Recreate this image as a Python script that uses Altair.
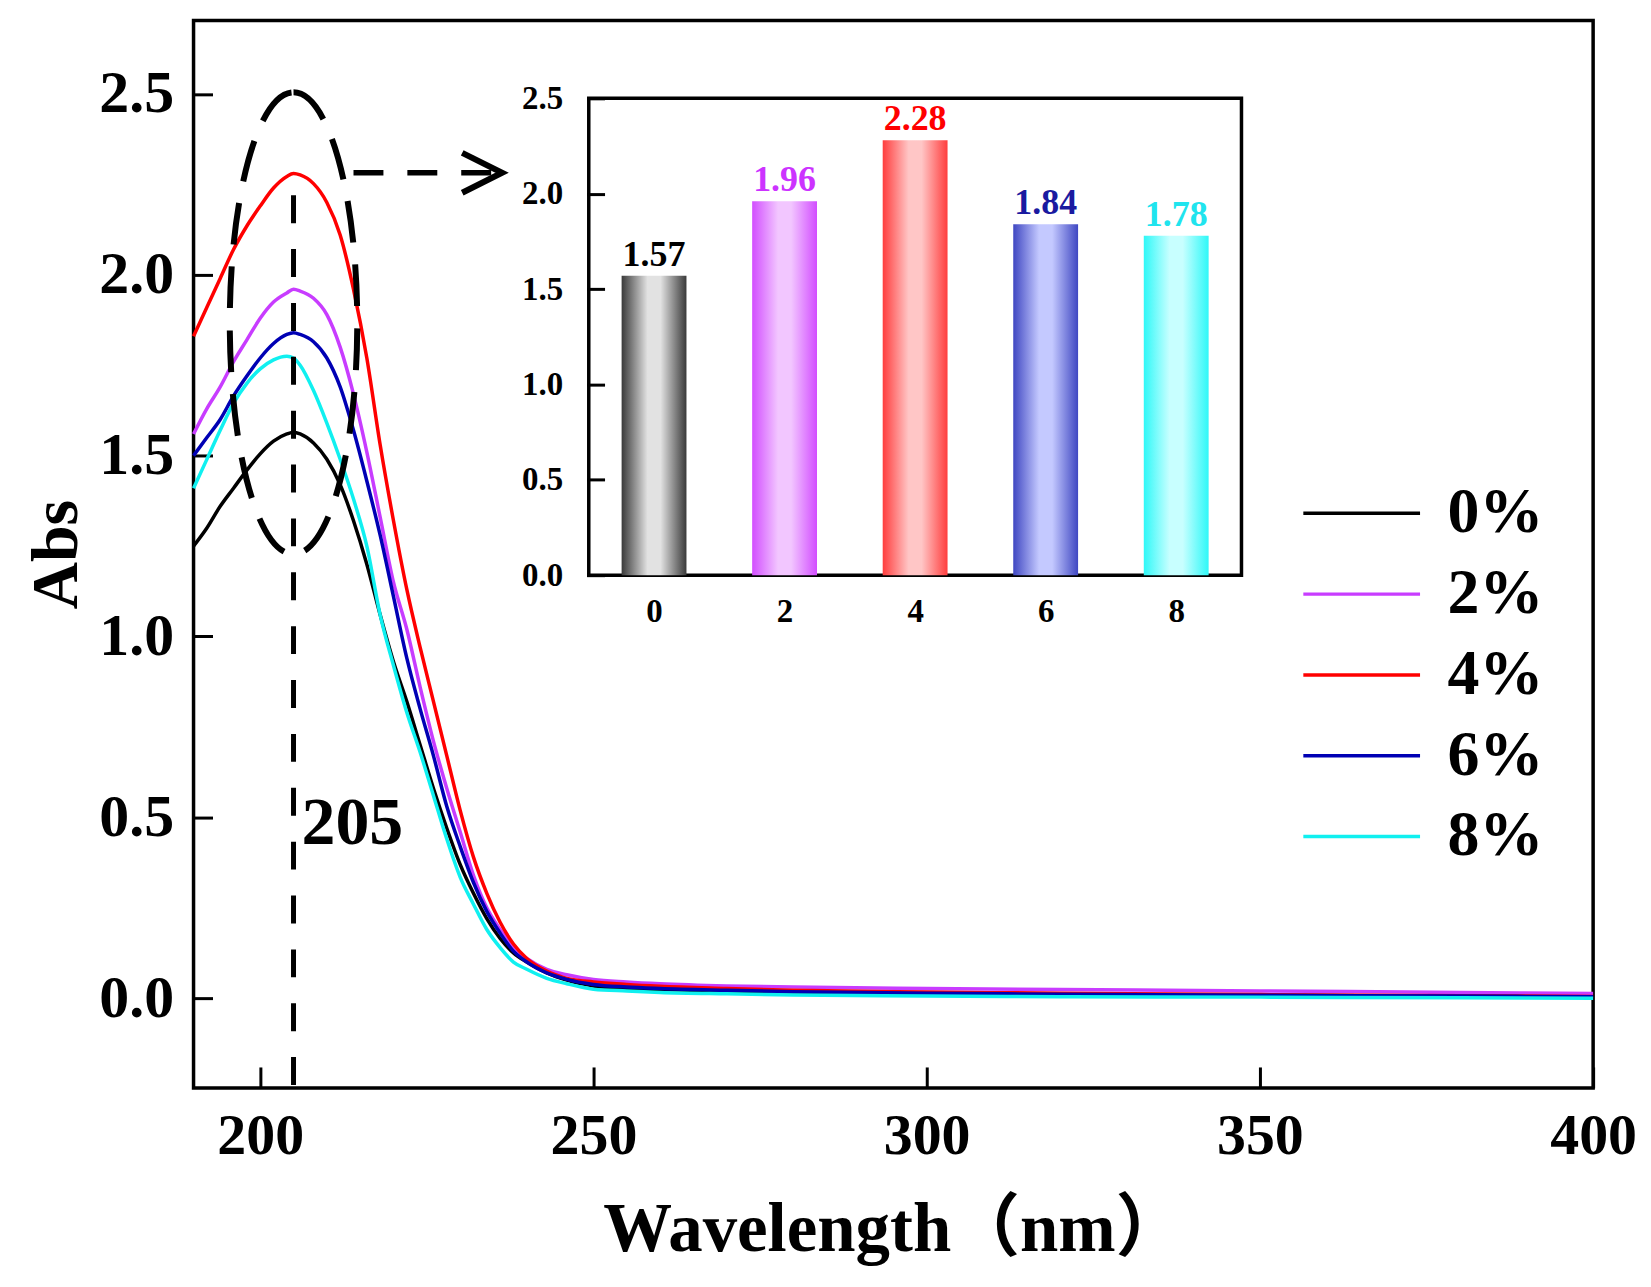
import altair as alt
import pandas as pd

# ---- main spectra ----
wavelength = [190, 192, 194, 196, 198, 200, 202, 204, 205, 206, 208, 210, 212, 214, 216, 218,
              220, 222, 224, 226, 228, 230, 232, 234, 236, 238, 240, 243, 246, 250, 255, 260,
              270, 280, 300, 320, 350, 380, 400]
abs_0 = [1.25, 1.30, 1.36, 1.41, 1.46, 1.505, 1.54, 1.56, 1.565, 1.56, 1.535, 1.49, 1.42, 1.32,
         1.20, 1.06, 0.93, 0.82, 0.70, 0.58, 0.47, 0.37, 0.29, 0.22, 0.165, 0.125, 0.10, 0.07,
         0.05, 0.034, 0.027, 0.024, 0.020, 0.017, 0.013, 0.011, 0.008, 0.006, 0.004]
abs_2 = [1.56, 1.63, 1.69, 1.76, 1.82, 1.88, 1.925, 1.95, 1.96, 1.955, 1.935, 1.89, 1.80, 1.67,
         1.51, 1.33, 1.15, 1.02, 0.86, 0.71, 0.58, 0.46, 0.34, 0.25, 0.19, 0.14, 0.11, 0.08,
         0.065, 0.052, 0.045, 0.040, 0.034, 0.031, 0.027, 0.024, 0.020, 0.016, 0.013]
abs_4 = [1.83, 1.91, 1.99, 2.07, 2.135, 2.19, 2.24, 2.272, 2.28, 2.276, 2.252, 2.20, 2.11, 1.96,
         1.77, 1.53, 1.32, 1.13, 0.97, 0.82, 0.67, 0.52, 0.39, 0.29, 0.21, 0.15, 0.11, 0.075,
         0.055, 0.045, 0.038, 0.033, 0.027, 0.022, 0.017, 0.014, 0.010, 0.007, 0.005]
abs_6 = [1.50, 1.55, 1.60, 1.665, 1.72, 1.77, 1.81, 1.835, 1.84, 1.835, 1.815, 1.77, 1.69, 1.57,
         1.43, 1.28, 1.11, 0.94, 0.80, 0.67, 0.53, 0.42, 0.32, 0.24, 0.18, 0.13, 0.10, 0.07,
         0.052, 0.038, 0.031, 0.027, 0.022, 0.018, 0.014, 0.011, 0.008, 0.006, 0.004]
abs_8 = [1.41, 1.49, 1.57, 1.645, 1.70, 1.74, 1.765, 1.775, 1.77, 1.75, 1.68, 1.59, 1.49, 1.38,
         1.25, 1.06, 0.92, 0.79, 0.68, 0.56, 0.44, 0.335, 0.26, 0.19, 0.14, 0.10, 0.08, 0.055,
         0.04, 0.025, 0.02, 0.016, 0.012, 0.009, 0.006, 0.004, 0.003, 0.001, 0.0]

series_names = ["0%", "2%", "4%", "6%", "8%"]
line_colors = ["#000000", "#c83cff", "#ff0000", "#0000b4", "#10f0f0"]

x_ticks = [200, 250, 300, 350, 400]
y_ticks = [0.0, 0.5, 1.0, 1.5, 2.0, 2.5]
x_domain = [190, 400]
y_domain = [-0.248, 2.703]

# annotation: peak position, ellipse round the peaks, arrow to the inset
peak_nm = 205
peak_line_top = 2.22
ellipse_center = [205, 1.866]
arrow_from = [214.0, 2.282]
arrow_to = 236.3
peak_label = "205"
peak_label_pos = [206.2, 0.425]

# ---- inset bars ----
inset_conc = [0, 2, 4, 6, 8]
inset_abs = [1.57, 1.96, 2.28, 1.84, 1.78]
inset_text = ["1.57", "1.96", "2.28", "1.84", "1.78"]
inset_x_ticks = [0, 2, 4, 6, 8]
inset_y_ticks = [0.0, 0.5, 1.0, 1.5, 2.0, 2.5]
inset_x_limits = [-1, 9]
inset_y_limits = [0, 2.5]
bar_edge = ["#3a3a3a", "#d24dff", "#ff3d3d", "#3f47c2", "#2ef8f8"]
bar_center = ["#e2e2e2", "#f2c6ff", "#ffc6c6", "#c4c9ff", "#c8ffff"]
label_colors = ["#000000", "#cc33ff", "#ff0000", "#1a1aa0", "#20e4ee"]

W, H = 1403, 1070
INSET_LEFT, INSET_TOP, INSET_W, INSET_H = 394, 78, 659, 478
FONT = "Liberation Serif"
TITLE_FONT = "Liberation Serif, Noto Sans CJK SC"

spectra = pd.DataFrame([
    {"wl": w, "abs": v, "series": s}
    for s, vals in zip(series_names, [abs_0, abs_2, abs_4, abs_6, abs_8])
    for w, v in zip(wavelength, vals)
])

x_scale = alt.Scale(domain=x_domain, nice=False, zero=False)
y_scale = alt.Scale(domain=y_domain, nice=False, zero=False)
x_axis = alt.Axis(values=x_ticks, orient="bottom", offset=-21, tickSize=21, tickWidth=3,
                  tickColor="black", domain=False, grid=False, labelPadding=20,
                  labelFont=FONT, labelFontSize=58, labelFontWeight="bold", labelColor="black",
                  labelFlush=False, title="Wavelength（nm）", titleFont=TITLE_FONT,
                  titleFontSize=69, titleFontWeight="bold", titleColor="black", titlePadding=30)
y_axis = alt.Axis(values=y_ticks, format=".1f", orient="left", offset=-19, tickSize=19,
                  tickWidth=3, tickColor="black", domain=False, grid=False, labelPadding=20,
                  labelFont=FONT, labelFontSize=60, labelFontWeight="bold", labelColor="black",
                  labelFlush=False, title="Abs", titleFont=FONT, titleFontSize=66,
                  titleFontWeight="bold", titleColor="black", titlePadding=8)

X = alt.X("wl:Q", scale=x_scale, axis=x_axis)
Y = alt.Y("abs:Q", scale=y_scale, axis=y_axis)

lines = alt.Chart(spectra).mark_line(strokeWidth=3.5, interpolate="monotone").encode(
    x=X, y=Y,
    color=alt.Color("series:N", sort=series_names,
                    scale=alt.Scale(domain=series_names, range=line_colors),
                    legend=alt.Legend(title=None, orient="none", legendX=1139, legendY=462,
                                      symbolType="M-3,0L3,0", symbolSize=1521,
                                      symbolStrokeWidth=3.5, labelFont=FONT, labelFontSize=64,
                                      labelFontWeight="bold", labelColor="black",
                                      labelOffset=54, rowPadding=17, padding=0)),
    detail="series:N",
)

peak_df = pd.DataFrame({"wl": [peak_nm], "abs": [peak_line_top], "lo": [y_domain[0]]})
peak_rule = alt.Chart(peak_df).mark_rule(strokeWidth=5, strokeDash=[28, 26], color="black").encode(
    x=X, y=Y, y2="lo:Q")

ellipse_path = ("M0,-1C0.1524,-1,0.276,-0.5523,0.276,0C0.276,0.5523,0.1524,1,0,1"
                "C-0.1524,1,-0.276,0.5523,-0.276,0C-0.276,-0.5523,-0.1524,-1,0,-1Z")
ell_df = pd.DataFrame({"wl": [ellipse_center[0]], "abs": [ellipse_center[1]]})
ellipse = alt.Chart(ell_df).mark_point(shape=ellipse_path, size=463 * 463, filled=False,
                                       color="black", strokeWidth=6, opacity=1,
                                       strokeDash=[42, 22]).encode(x=X, y=Y)

arrow_df = pd.DataFrame({"wl": [arrow_from[0]], "wl2": [arrow_to], "abs": [arrow_from[1]]})
arrow = alt.Chart(arrow_df).mark_rule(strokeWidth=5.5, strokeDash=[30, 24], color="black").encode(
    x=X, x2="wl2:Q", y=Y)
head_df = pd.DataFrame({"wl": [arrow_to], "abs": [arrow_from[1]]})
head = alt.Chart(head_df).mark_point(shape="M-2,-1L0,0L-2,1", size=1600, filled=False,
                                     color="black", strokeWidth=6, opacity=1).encode(x=X, y=Y)

lab_df = pd.DataFrame({"wl": [peak_label_pos[0]], "abs": [peak_label_pos[1]], "t": [peak_label]})
peak_text = alt.Chart(lab_df).mark_text(align="left", baseline="alphabetic", font=FONT,
                                        fontSize=68, fontWeight="bold", color="black").encode(
    x=X, y=Y, text="t:N")

main = alt.layer(lines, peak_rule, ellipse, arrow, head, peak_text)

# ---- inset (own scales, placed inside the main plot area) ----
ipx = INSET_W / (inset_x_limits[1] - inset_x_limits[0])
ipy = INSET_H / (inset_y_limits[1] - inset_y_limits[0])
inset_x_domain = [inset_x_limits[0] - INSET_LEFT / ipx,
                  inset_x_limits[1] + (W - INSET_LEFT - INSET_W) / ipx]
inset_y_domain = [inset_y_limits[0] - (H - INSET_TOP - INSET_H) / ipy,
                  inset_y_limits[1] + INSET_TOP / ipy]

ix_axis = alt.Axis(values=inset_x_ticks, orient="bottom", offset=-(H - INSET_TOP - INSET_H),
                   ticks=False, domain=False, grid=False, labelPadding=20, labelFont=FONT,
                   labelFontSize=33, labelFontWeight="bold", labelColor="black",
                   labelFlush=False, title=None, zindex=1)
iy_axis = alt.Axis(values=inset_y_ticks, format=".1f", orient="left", offset=-(INSET_LEFT + 18),
                   tickSize=18, tickWidth=3, tickColor="black", domain=False, grid=False,
                   labelPadding=24, labelFont=FONT, labelFontSize=33, labelFontWeight="bold",
                   labelColor="black", labelFlush=False, title=None, zindex=1)
IX = alt.X("c:Q", scale=alt.Scale(domain=inset_x_domain, nice=False, zero=False), axis=ix_axis)
IY = alt.Y("v:Q", scale=alt.Scale(domain=inset_y_domain, nice=False, zero=False), axis=iy_axis)

bars_df = pd.DataFrame({"c": inset_conc, "v": inset_abs, "t": inset_text, "series": series_names})
frame_df = pd.DataFrame({"c": [inset_x_limits[0]], "c2": [inset_x_limits[1]],
                         "v": [inset_y_limits[0]], "v2": [inset_y_limits[1]]})
frame = alt.Chart(frame_df).mark_rect(fill="white", stroke="black", strokeWidth=3.5).encode(
    x=IX, x2="c2:Q", y=IY, y2="v2:Q")

bar_layers = []
for c, e, m in zip(inset_conc, bar_edge, bar_center):
    grad = alt.Gradient(gradient="linear", x1=0, x2=1, y1=0, y2=0, stops=[
        alt.GradientStop(color=e, offset=0), alt.GradientStop(color=m, offset=0.4),
        alt.GradientStop(color=m, offset=0.6), alt.GradientStop(color=e, offset=1)])
    bar_layers.append(
        alt.Chart(bars_df).transform_filter(alt.datum.c == c)
        .mark_bar(color=grad, size=65, orient="vertical").encode(x=IX, y=IY))

bar_text = alt.Chart(bars_df).mark_text(baseline="alphabetic", dy=-10, font=FONT, fontSize=36,
                                        fontWeight="bold").encode(
    x=IX, y=IY, text="t:N",
    color=alt.Color("series:N", scale=alt.Scale(domain=series_names, range=label_colors),
                    legend=None))

inset = alt.layer(frame, *bar_layers, bar_text)

chart = alt.layer(main, inset).resolve_scale(
    x="independent", y="independent", color="independent"
).properties(
    width=W, height=H,
    background="white",
    autosize=alt.AutoSizeParams(type="none"),
    padding={"left": 186, "top": 11, "right": 50, "bottom": 190},
).configure_view(stroke="black", strokeWidth=3.5)

chart.save("out.html", embed_options={"renderer": "svg", "actions": False})
